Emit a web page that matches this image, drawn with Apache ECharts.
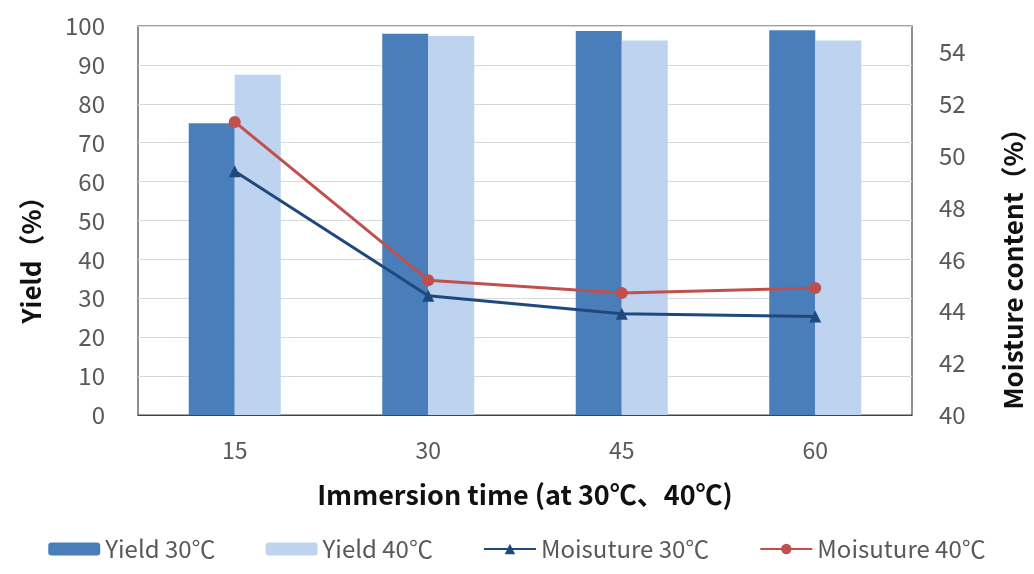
<!DOCTYPE html>
<html><head><meta charset="utf-8">
<script src="https://cdn.jsdelivr.net/npm/echarts@6/dist/echarts.min.js"></script>
<style>html,body{margin:0;padding:0;background:#fff}#c{width:1034px;height:574px}</style>
</head><body><div id="c"></div>
<script>
var categories = ['15', '30', '45', '60'];
var yield30 = [75, 98, 98.7, 98.9];
var yield40 = [87.5, 97.4, 96.3, 96.3];
var moist30 = [49.4, 44.6, 43.9, 43.8];
var moist40 = [51.3, 45.2, 44.7, 44.9];
var seriesNames = ['Yield 30℃', 'Yield 40℃', 'Moisuture 30℃', 'Moisuture 40℃'];

var font = '"Noto Sans CJK JP", Lato, sans-serif';
var chart = echarts.init(document.getElementById('c'));
chart.setOption({
  animation: false,
  textStyle: { fontFamily: font },
  grid: { left: 138, right: 121, top: 26, bottom: 159, show: true, borderColor: '#444', borderWidth: 1.2, backgroundColor: 'transparent' },
  legend: {
    bottom: 8, left: 'center', itemWidth: 52, itemHeight: 13, itemGap: 50,
    textStyle: { fontSize: 24, color: '#595959', fontFamily: font },
    data: seriesNames
  },
  xAxis: {
    type: 'category', data: categories,
    axisTick: { show: false },
    axisLine: { lineStyle: { color: '#444' } },
    axisLabel: { fontSize: 23, color: '#595959', margin: 24 },
    name: 'Immersion time (at 30℃、40℃)', nameLocation: 'middle', nameGap: 66,
    nameTextStyle: { fontSize: 27, fontWeight: 'bold', color: '#111' }
  },
  yAxis: [{
    type: 'value', min: 0, max: 100, interval: 10,
    axisLine: { show: false }, axisTick: { show: false },
    splitLine: { lineStyle: { color: '#d9d9d9' } },
    axisLabel: { fontSize: 24, color: '#595959', margin: 33 },
    name: 'Yield（%）', nameLocation: 'middle', nameGap: 94, nameRotate: 90,
    nameTextStyle: { fontSize: 26, fontWeight: 'bold', color: '#111', padding: [0, 66, 0, 0] }
  }, {
    type: 'value', min: 40, max: 55, interval: 2, position: 'right',
    axisLine: { show: false }, axisTick: { show: false }, splitLine: { show: false },
    axisLabel: { fontSize: 24, color: '#595959', margin: 27, showMaxLabel: false },
    name: 'Moisture content（%）', nameLocation: 'middle', nameGap: 88, nameRotate: 90,
    nameTextStyle: { fontSize: 26, fontWeight: 'bold', color: '#111', padding: [0, 84, 0, 0] }
  }],
  series: [{
    name: seriesNames[0], type: 'bar', data: yield30, barWidth: 46, barGap: '0%',
    itemStyle: { color: '#4a7ebb' }
  }, {
    name: seriesNames[1], type: 'bar', data: yield40, barWidth: 46,
    itemStyle: { color: '#bdd3ef' }
  }, {
    name: seriesNames[2], type: 'line', yAxisIndex: 1, data: moist30,
    symbol: 'triangle', symbolSize: 12,
    lineStyle: { color: '#1f497d', width: 3 }, itemStyle: { color: '#1f497d' }
  }, {
    name: seriesNames[3], type: 'line', yAxisIndex: 1, data: moist40,
    symbol: 'circle', symbolSize: 12,
    lineStyle: { color: '#c0504d', width: 3 }, itemStyle: { color: '#c0504d' }
  }]
});
</script></body></html>
